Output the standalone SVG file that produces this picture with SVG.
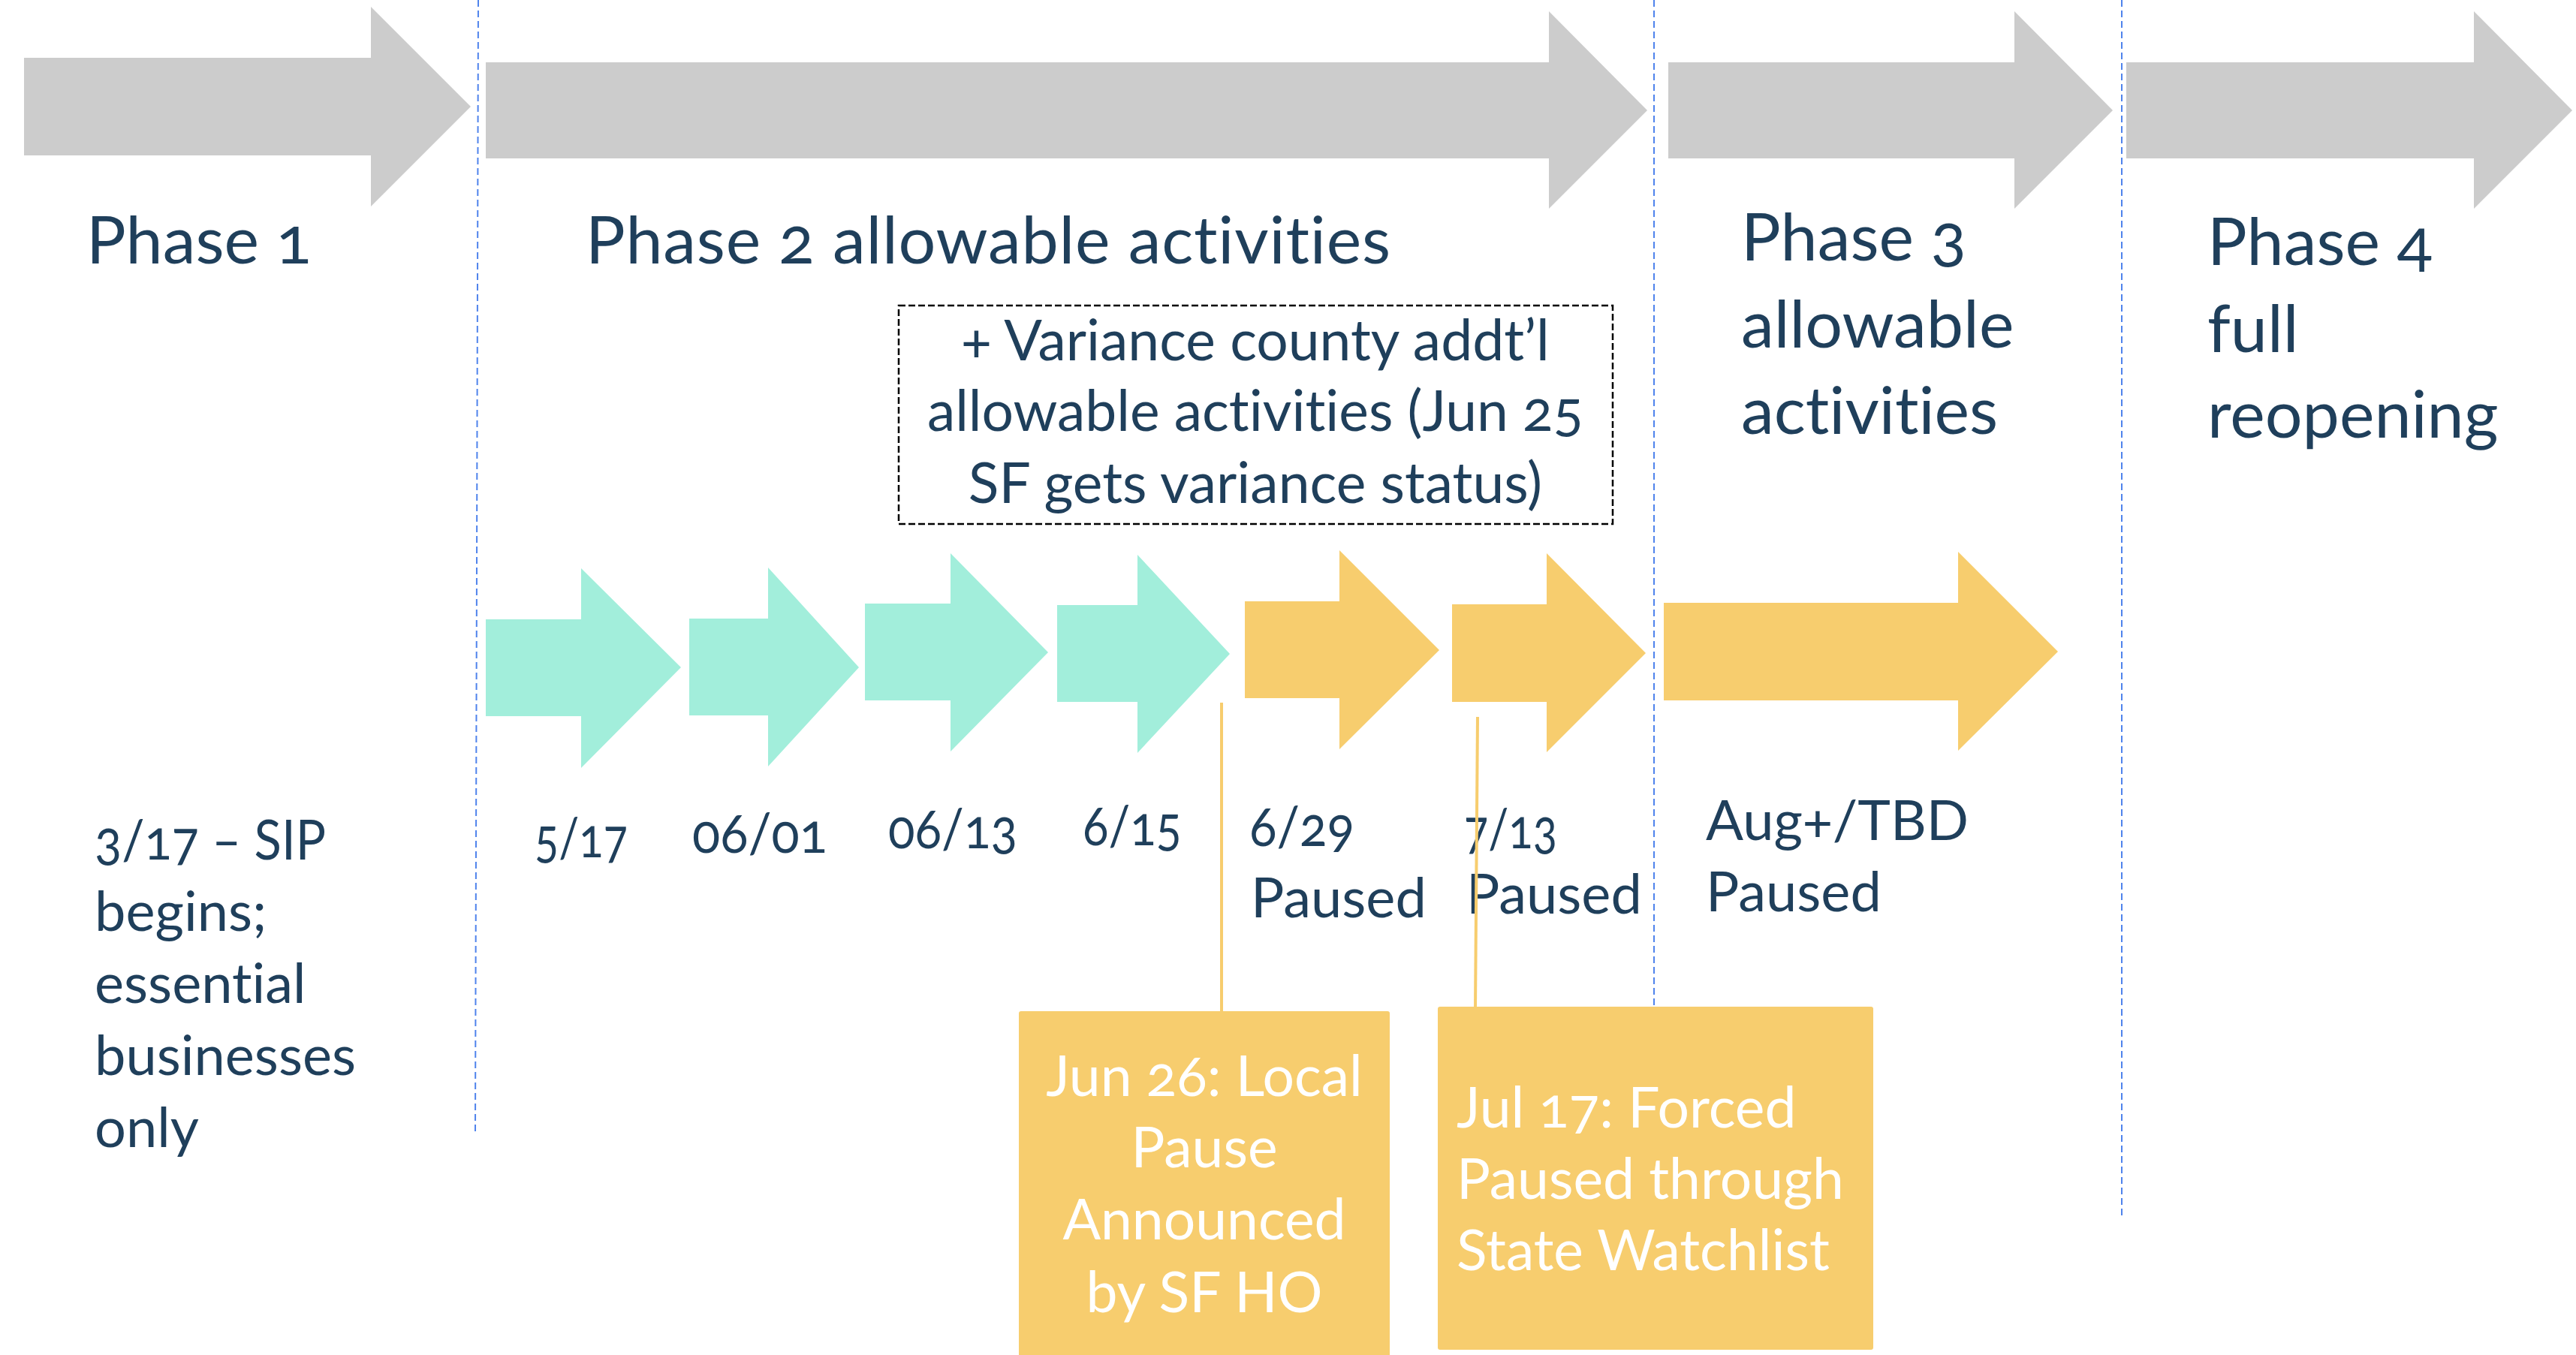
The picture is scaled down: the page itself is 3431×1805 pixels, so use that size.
<svg xmlns="http://www.w3.org/2000/svg" width="3431" height="1805" viewBox="0 0 3431 1805">
<style>
text{font-family:Lato,"Open Sans","Noto Sans",sans-serif;fill:#1f3f5b;font-variant-numeric:oldstyle-nums;font-variant-ligatures:none;font-feature-settings:"liga" 0,"onum" 1;}
.ph{font-size:88px;}
.dt{font-size:74px;}
.bx{font-size:75px;}
.wt{font-size:75px;fill:#ffffff;}
.gray{fill:#cccccc;}
.teal{fill:#a2eedb;}
.yel{fill:#f7cd6e;}
.vline{stroke:#4f83ec;stroke-width:2;stroke-dasharray:9 5;fill:none;}
.conn{stroke:#f7cd6e;stroke-width:4;fill:none;}
</style>
<rect width="3431" height="1805" fill="#ffffff"/>
<g id="dividers">
<line class="vline" x1="637" y1="0" x2="633" y2="1510"/>
<line class="vline" x1="2203" y1="0" x2="2203" y2="1341"/>
<line class="vline" x1="2826" y1="0" x2="2826" y2="1620"/>
</g>
<g id="phase1">
<polygon class="gray" points="32,77 494,77 494,9 627,142 494,275 494,207 32,207"/>
<text class="ph" x="115" y="351">Phase 1</text>
</g>
<g id="phase2">
<polygon class="gray" points="647,83 2063,83 2063,15 2194,147 2063,278 2063,211 647,211"/>
<text class="ph" x="780" y="351" textLength="1072" lengthAdjust="spacing">Phase 2 allowable activities</text>
</g>
<g id="phase3">
<polygon class="gray" points="2222,83 2683,83 2683,15 2814,147 2683,278 2683,211 2222,211"/>
<text class="ph" x="2319" y="347">Phase 3</text>
<text class="ph" x="2319" y="463">allowable</text>
<text class="ph" x="2319" y="578">activities</text>
</g>
<g id="phase4">
<polygon class="gray" points="2832,83 3295,83 3295,15 3426,147 3295,278 3295,211 2832,211"/>
<text class="ph" x="2940" y="353">Phase 4</text>
<text class="ph" x="2940" y="469">full</text>
<text class="ph" x="2940" y="583">reopening</text>
</g>
<g id="variance">
<rect x="1197" y="407" width="951" height="291" fill="none" stroke="#000000" stroke-width="2.5" stroke-dasharray="9 4"/>
<text class="bx" x="1672" y="480" text-anchor="middle">+ Variance county addt’l</text>
<text class="bx" x="1672" y="574" text-anchor="middle">allowable activities (Jun 25</text>
<text class="bx" x="1672" y="670" text-anchor="middle">SF gets variance status)</text>
</g>
<g id="sip">
<text class="dt" x="126" y="1145" textLength="308" lengthAdjust="spacingAndGlyphs">3/17 – SIP</text>
<text class="dt" x="126" y="1240">begins;</text>
<text class="dt" x="126" y="1336">essential</text>
<text class="dt" x="126" y="1432">businesses</text>
<text class="dt" x="126" y="1528">only</text>
</g>
<g id="step-0517">
<polygon class="teal" points="647,825 774,825 774,757 907,889 774,1023 774,954 647,954"/>
<text class="dt" x="712" y="1142" textLength="124" lengthAdjust="spacingAndGlyphs">5/17</text>
</g>
<g id="step-0601">
<polygon class="teal" points="918,824 1023,824 1023,756 1144,889 1023,1021 1023,953 918,953"/>
<text class="dt" x="922" y="1136" textLength="180" lengthAdjust="spacingAndGlyphs">06/01</text>
</g>
<g id="step-0613">
<polygon class="teal" points="1152,804 1266,804 1266,737 1396,869 1266,1001 1266,933 1152,933"/>
<text class="dt" x="1183" y="1130" textLength="172" lengthAdjust="spacingAndGlyphs">06/13</text>
</g>
<g id="step-0615">
<polygon class="teal" points="1408,806 1515,806 1515,739 1638,871 1515,1003 1515,935 1408,935"/>
<text class="dt" x="1442" y="1126" textLength="132" lengthAdjust="spacingAndGlyphs">6/15</text>
</g>
<g id="step-0629">
<polygon class="yel" points="1658,801 1784,801 1784,733 1917,866 1784,998 1784,930 1658,930"/>
<text class="dt" x="1664" y="1127" textLength="140" lengthAdjust="spacingAndGlyphs">6/29</text>
<text class="dt" x="1666" y="1222">Paused</text>
</g>
<g id="step-0713">
<polygon class="yel" points="1934,805 2060,805 2060,737 2192,870 2060,1002 2060,935 1934,935"/>
<text class="dt" x="1950" y="1130" textLength="124" lengthAdjust="spacingAndGlyphs">7/13</text>
<text class="dt" x="1953" y="1217">Paused</text>
</g>
<g id="step-aug">
<polygon class="yel" points="2216,803 2608,803 2608,735 2741,868 2608,1000 2608,933 2216,933"/>
<text class="dt" x="2272" y="1119">Aug+/TBD</text>
<text class="dt" x="2272" y="1214">Paused</text>
</g>
<g id="connectors">
<line class="conn" x1="1627" y1="936" x2="1627" y2="1349"/>
<line class="conn" x1="1968" y1="955" x2="1965" y2="1343"/>
</g>
<g id="note-jun26">
<rect class="yel" x="1357" y="1347" width="494" height="470" rx="3"/>
<text class="wt" x="1604" y="1460" text-anchor="middle">Jun 26: Local</text>
<text class="wt" x="1604" y="1555" text-anchor="middle">Pause</text>
<text class="wt" x="1604" y="1651" text-anchor="middle">Announced</text>
<text class="wt" x="1604" y="1748" text-anchor="middle">by SF HO</text>
</g>
<g id="note-jul17">
<rect class="yel" x="1915" y="1341" width="580" height="457" rx="3"/>
<text class="wt" x="1940" y="1502">Jul 17: Forced</text>
<text class="wt" x="1940" y="1597">Paused through</text>
<text class="wt" x="1940" y="1692">State Watchlist</text>
</g>
</svg>
